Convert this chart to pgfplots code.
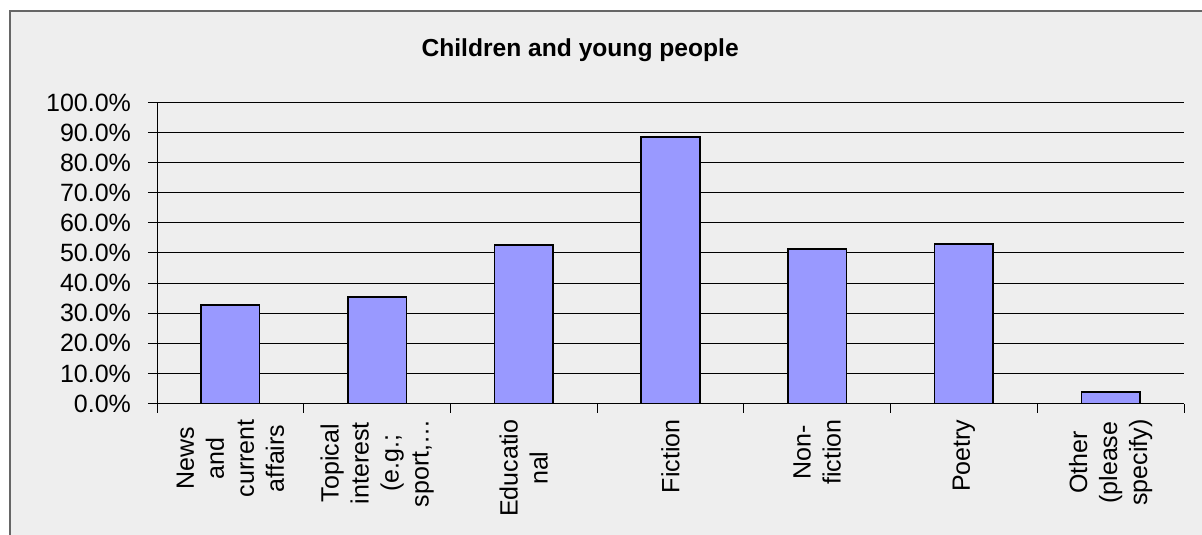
\documentclass[border=0pt]{standalone}
\usepackage{pgfplots}
\pgfplotsset{compat=1.18}
\usepackage{fontspec}
\setmainfont{Liberation Sans}
\definecolor{bgc}{HTML}{EEEEEE}
\definecolor{barc}{HTML}{9999FF}
\definecolor{frame}{HTML}{666666}
\begin{document}
\begin{tikzpicture}
\fill[white] (0,0) rectangle (601bp,267.5bp);
\fill[bgc] (5bp,0) rectangle (601bp,262bp);
\draw[frame, line width=0.6bp] (5bp,0) -- (5bp,262bp) -- (601bp,262bp);
\begin{axis}[
  at={(78.5bp,65.75bp)}, anchor=south west,
  scale only axis, width=513.5bp, height=150.5bp,
  xmin=-0.5, xmax=6.5, ymin=0, ymax=100,
  axis lines=left, axis line style={-, line width=0.5bp},
  ymajorgrids, grid style={black, line width=0.5bp},
  ytick={0,10,...,100},
  yticklabel={\pgfmathprintnumber[fixed,fixed zerofill,precision=1]{\tick}\%},
  /pgf/number format/assume math mode=true,
  yticklabel style={font=\fontsize{12.5bp}{14bp}\selectfont, xshift=-5bp},
  tick align=outside, major tick length=4.5bp, minor tick length=4.5bp,
  tick style={black, line width=0.5bp},
  xtick={0,1,2,3,4,5,6},
  x tick style={draw=none},
  minor xtick={-0.5,0.5,1.5,2.5,3.5,4.5,5.5,6.5},
  minor x tick style={draw=black, line width=0.5bp},
  xticklabels={{News\\and\\current\\affairs},{Topical\\interest\\(e.g.;\\sport,…},{Educatio\\nal},{Fiction},{Non-\\fiction},{Poetry},{Other\\(please\\specify)}},
  xticklabel style={rotate=90, anchor=east, align=center, font=\fontsize{12.5bp}{15bp}\selectfont},
  title={\bfseries Children and young people},
  title style={at={(axis description cs:0.412,1.152)}, anchor=base, yshift=-6pt, font=\fontsize{12.3bp}{14bp}\selectfont},
  clip=false,
]
\addplot[ybar, bar width=0.4, fill=barc, draw=black, line width=0.8bp] coordinates {
  (0,32.8) (1,35.3) (2,52.6) (3,88.6) (4,51.3) (5,53.0) (6,3.8)
};
\end{axis}
\pgfresetboundingbox
\useasboundingbox (0,0) rectangle (601bp,267.5bp);
\end{tikzpicture}
\end{document}
